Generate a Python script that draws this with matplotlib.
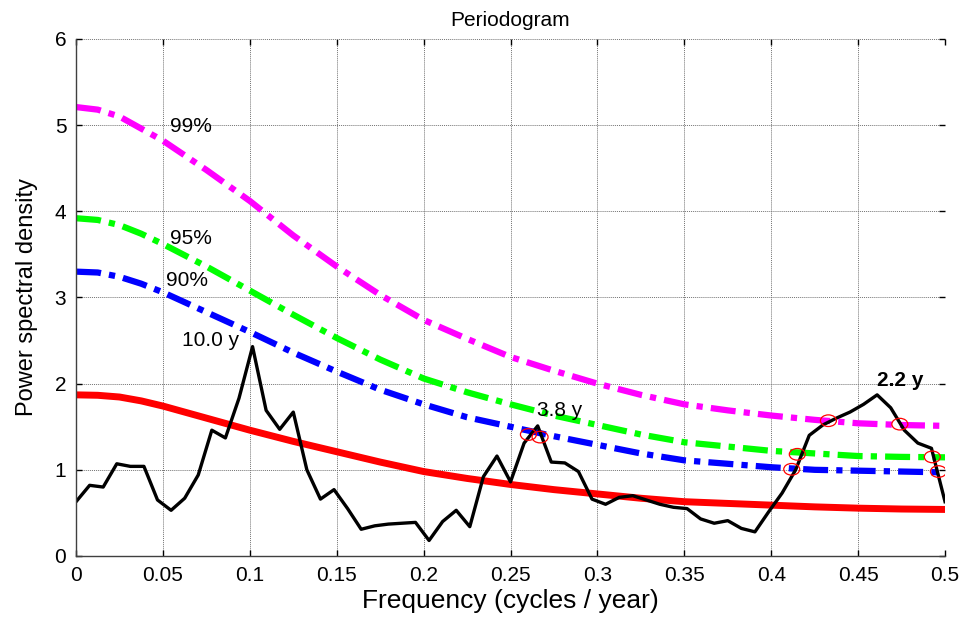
import numpy as np
import matplotlib
matplotlib.use("Agg")
import matplotlib.pyplot as plt
from matplotlib.patches import Ellipse

plt.rcParams['font.family'] = ['Liberation Sans', 'DejaVu Sans']

# ---- data ----
freq = np.arange(65) / 128.0
power = [0.63, 0.82, 0.80, 1.07, 1.04, 1.04, 0.65, 0.53, 0.67, 0.94,
         1.46, 1.37, 1.83, 2.43, 1.69, 1.47, 1.67, 1.00, 0.66, 0.77,
         0.55, 0.31, 0.35, 0.37, 0.38, 0.39, 0.18, 0.40, 0.53, 0.34,
         0.92, 1.16, 0.86, 1.31, 1.51, 1.09, 1.08, 0.98, 0.66, 0.60,
         0.68, 0.70, 0.65, 0.60, 0.565, 0.55, 0.43, 0.38, 0.41, 0.32,
         0.28, 0.51, 0.73, 1.00, 1.40, 1.52, 1.60, 1.67, 1.76, 1.87,
         1.72, 1.46, 1.31, 1.25, 0.63]

conf_freq = [0.0, 0.0125, 0.025, 0.0375, 0.05, 0.075, 0.1, 0.125, 0.15, 0.175,
             0.2, 0.225, 0.25, 0.275, 0.3, 0.325, 0.35, 0.375, 0.4, 0.425,
             0.45, 0.475, 0.5]
red_noise = [1.87, 1.865, 1.845, 1.80, 1.74, 1.60, 1.46, 1.33, 1.21, 1.09,
             0.98, 0.90, 0.83, 0.77, 0.72, 0.67, 0.63, 0.61, 0.59, 0.57,
             0.555, 0.545, 0.54]
conf99 = [5.21, 5.18, 5.10, 4.96, 4.82, 4.48, 4.12, 3.72, 3.36, 3.03,
          2.74, 2.52, 2.31, 2.15, 2.00, 1.87, 1.76, 1.69, 1.63, 1.58,
          1.54, 1.52, 1.51]
conf95 = [3.92, 3.90, 3.84, 3.74, 3.62, 3.36, 3.08, 2.80, 2.53, 2.28,
          2.06, 1.90, 1.76, 1.63, 1.52, 1.41, 1.32, 1.27, 1.22, 1.19,
          1.16, 1.15, 1.145]
conf90 = [3.30, 3.29, 3.24, 3.16, 3.06, 2.83, 2.60, 2.36, 2.14, 1.93,
          1.76, 1.61, 1.50, 1.39, 1.29, 1.19, 1.11, 1.07, 1.03, 1.00,
          0.99, 0.98, 0.97]

cross_f = [0.2603, 0.2670, 0.4118, 0.4150, 0.4329, 0.4740, 0.4927, 0.4962]
cross_p = [1.41, 1.38, 1.006, 1.18, 1.57, 1.53, 1.15, 0.98]

level_labels = ["99%", "95%", "90%"]
level_f = [0.054, 0.054, 0.052]
level_p = [4.99, 3.69, 3.20]

peak_labels = ["10.0 y", "3.8 y", "2.2 y"]
peak_f = [0.061, 0.265, 0.4607]
peak_p = [2.50, 1.69, 2.04]
peak_weight = ["normal", "normal", "bold"]

xticks = [0, 0.05, 0.1, 0.15, 0.2, 0.25, 0.3, 0.35, 0.4, 0.45, 0.5]
xticklabels = ["0", "0.05", "0.1", "0.15", "0.2", "0.25", "0.3", "0.35", "0.4", "0.45", "0.5"]
yticks = [0, 1, 2, 3, 4, 5, 6]

# ---- figure ----
fig = plt.figure(figsize=(9.65, 6.21), dpi=100)
ax = fig.add_axes([0.0788, 0.1047, 0.9005, 0.8325])

ax.grid(True, color='0.45', linestyle=(0, (1, 1)), linewidth=0.7)
ax.set_axisbelow(True)

dash = [4, 1.3, 1, 1.3]
ax.plot(conf_freq, conf99, color='#ff00ff', lw=4.5, dashes=dash, dash_capstyle='butt')
ax.plot(conf_freq, conf95, color='#00ff00', lw=4.5, dashes=dash, dash_capstyle='butt')
ax.plot(conf_freq, conf90, color='#0000ff', lw=4.5, dashes=dash, dash_capstyle='butt')
ax.plot(conf_freq, red_noise, color='#ff0000', lw=5)
ax.plot(freq, power, color='black', lw=2.4)

for f, p in zip(cross_f, cross_p):
    ax.add_patch(Ellipse((f, p), width=0.0092, height=0.135, fill=False,
                         edgecolor='red', lw=0.9, zorder=5))

for t, f, p in zip(level_labels, level_f, level_p):
    ax.text(f, p, t, fontsize=15, va='center', ha='left')
for t, f, p, w in zip(peak_labels, peak_f, peak_p, peak_weight):
    ax.text(f, p, t, fontsize=15, va='center', ha='left', fontweight=w)

ax.set_xlim(0, 0.5)
ax.set_ylim(0, 6)
ax.set_xticks(xticks)
ax.set_xticklabels(xticklabels)
ax.set_yticks(yticks)
ax.tick_params(direction='in', length=4, width=1, labelsize=15,
               top=True, right=True, pad=7)
ax.spines['top'].set_visible(False)
ax.spines['right'].set_visible(False)
for s in ['left', 'bottom']:
    ax.spines[s].set_color('0.25')
    ax.spines[s].set_linewidth(1.0)

ax.set_title("Periodogram", fontsize=15, pad=9)
ax.set_xlabel("Frequency (cycles / year)", fontsize=19, labelpad=3)
ax.set_ylabel("Power spectral density", fontsize=17, labelpad=12)

fig.savefig("out.png", dpi=100)
